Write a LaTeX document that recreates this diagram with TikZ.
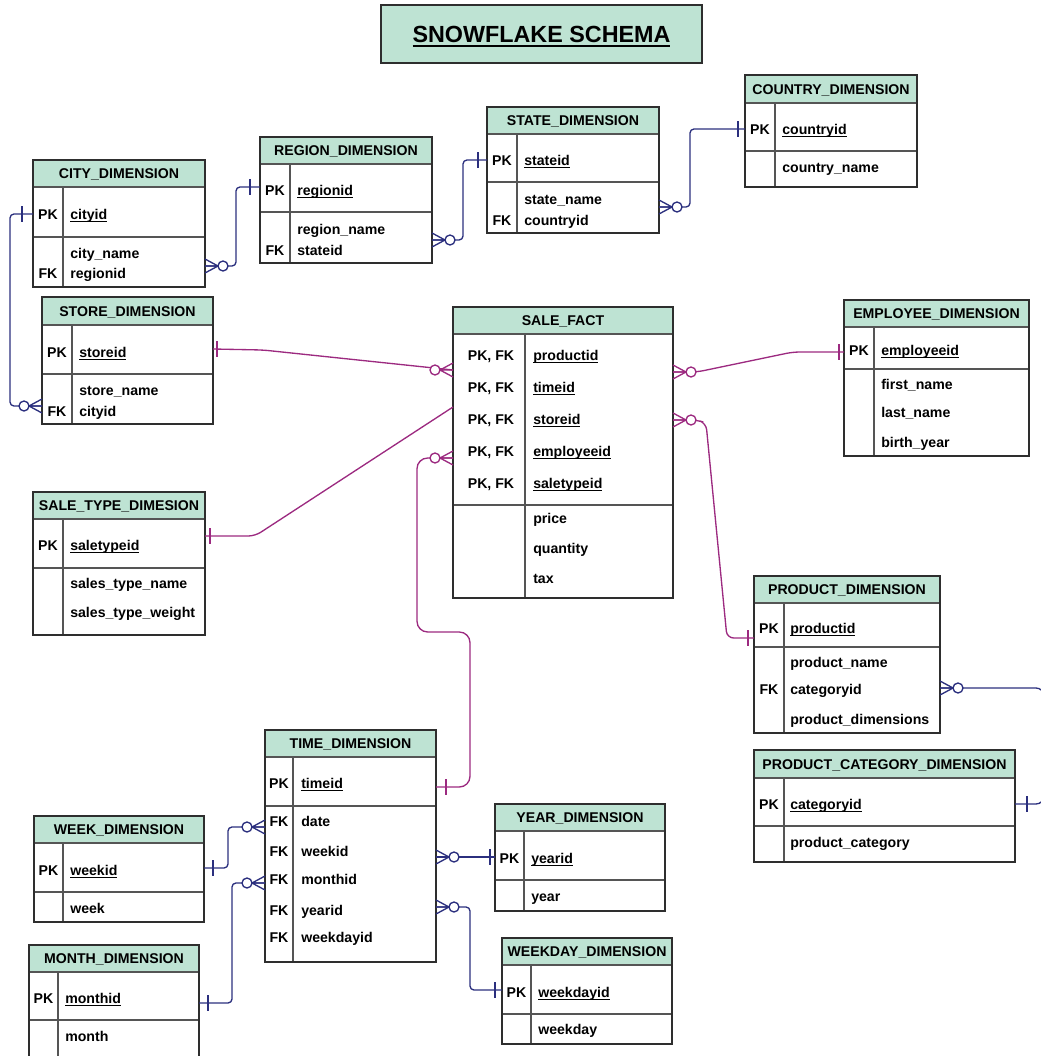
\documentclass[tikz,border=0pt]{standalone}
\usepackage{fontspec}
\setmainfont{Liberation Sans}
\definecolor{hdrfill}{HTML}{BEE3D3}
\definecolor{tblline}{HTML}{2E2E2E}
\definecolor{tblinner}{HTML}{555555}
\definecolor{navy}{HTML}{2B2F7E}
\definecolor{plum}{HTML}{9C2A80}

% key underline: rule of given thickness, given depth below the baseline
\newcommand\keyline[3]{\setbox0\hbox{#3}\leavevmode\rlap{\raisebox{-#2}{\rule{\wd0}{#1}}}\box0}
\newcommand\ukey[1]{\keyline{0.75pt}{2.1pt}{#1}}

% table: name, title, x1, x2, y-top, y-header, y-key, y-bottom, x-divider
\newcommand\ertable[9]{%
  \fill[hdrfill] (#3,#5) rectangle (#4,#6);
  \draw[innerrule] (#3,#6) -- (#4,#6) (#3,#7) -- (#4,#7) (#9,#6) -- (#9,#8);
  \draw[outerrule] (#3,#5) rectangle (#4,#8);
  \node[hdrtext] (#1) at ({(#3+#4)/2},{(#5+#6)/2}) {#2};
}

\tikzset{
  crow/.pic={
    \draw[pic actions] (0,-7) -- (13,0) -- (0,7) (0,0) -- (13,0);
    \draw[pic actions,fill=white] (18,0) circle[radius=5];
  },
  onebar/.pic={\draw[pic actions] (0,-8) -- (0,8);}
}

\begin{document}
\begin{tikzpicture}[x=0.75pt,y=-0.75pt,
  outerrule/.style={draw=tblline,line width=1.1pt},
  innerrule/.style={draw=tblinner,line width=1.1pt},
  cell/.style={font=\bfseries\fontsize{10.6}{12}\selectfont,text=black,inner sep=0pt,
    text height=7.5pt,text depth=0pt,anchor=west},
  keycell/.style={cell,anchor=center},
  hdrtext/.style={cell,anchor=center},
  navyrel/.style={draw=navy,line width=1pt,rounded corners=3pt},
  plumrel/.style={draw=plum,line width=1pt,rounded corners=5pt},
  navyend/.style={draw=navy,line width=1pt},
  plumend/.style={draw=plum,line width=1pt}]
\useasboundingbox (0,0) rectangle (1041,1056);

% title
\draw[draw=tblline,line width=1.4pt,fill=hdrfill] (381,5) rectangle (702,63);
\node[font=\bfseries\fontsize{17.5}{20}\selectfont,inner sep=0pt,text height=12.6pt,text depth=0pt]
  (title) at (541.5,34) {\keyline{1.5pt}{3.6pt}{SNOWFLAKE SCHEMA}};

% ---------------- tables ----------------
\ertable{city}{CITY\_DIMENSION}{33}{205}{160}{187}{237}{287}{63}
\node[keycell] (city-k1) at (48,214) {PK};
\node[cell] (city-f1) at (70,214) {\ukey{cityid}};
\node[cell] (city-f2) at (70,253) {city\_name};
\node[keycell] (city-k3) at (48,273) {FK};
\node[cell] (city-f3) at (70,273) {regionid};

\ertable{region}{REGION\_DIMENSION}{260}{432}{137}{164}{212}{263}{290}
\node[keycell] (region-k1) at (275,190) {PK};
\node[cell] (region-f1) at (297,190) {\ukey{regionid}};
\node[cell] (region-f2) at (297,229) {region\_name};
\node[keycell] (region-k3) at (275,250) {FK};
\node[cell] (region-f3) at (297,250) {stateid};

\ertable{state}{STATE\_DIMENSION}{487}{659}{107}{134}{182}{233}{517}
\node[keycell] (state-k1) at (502,160) {PK};
\node[cell] (state-f1) at (524,160) {\ukey{stateid}};
\node[cell] (state-f2) at (524,199) {state\_name};
\node[keycell] (state-k3) at (502,220) {FK};
\node[cell] (state-f3) at (524,220) {countryid};

\ertable{country}{COUNTRY\_DIMENSION}{745}{917}{75}{103}{151}{187}{775}
\node[keycell] (country-k1) at (760,129) {PK};
\node[cell] (country-f1) at (782,129) {\ukey{countryid}};
\node[cell] (country-f2) at (782,167) {country\_name};

\ertable{store}{STORE\_DIMENSION}{42}{213}{297}{325}{374}{424}{72}
\node[keycell] (store-k1) at (57,352) {PK};
\node[cell] (store-f1) at (79,352) {\ukey{storeid}};
\node[cell] (store-f2) at (79,390) {store\_name};
\node[keycell] (store-k3) at (57,411) {FK};
\node[cell] (store-f3) at (79,411) {cityid};

\ertable{sale}{SALE\_FACT}{453}{673}{307}{334}{505}{598}{525}
\node[keycell] (sale-k1) at (491,355) {PK, FK};
\node[cell] (sale-f1) at (533,355) {\ukey{productid}};
\node[keycell] (sale-k2) at (491,387) {PK, FK};
\node[cell] (sale-f2) at (533,387) {\ukey{timeid}};
\node[keycell] (sale-k3) at (491,419) {PK, FK};
\node[cell] (sale-f3) at (533,419) {\ukey{storeid}};
\node[keycell] (sale-k4) at (491,451) {PK, FK};
\node[cell] (sale-f4) at (533,451) {\ukey{employeeid}};
\node[keycell] (sale-k5) at (491,483) {PK, FK};
\node[cell] (sale-f5) at (533,483) {\ukey{saletypeid}};
\node[cell] (sale-f6) at (533,518) {price};
\node[cell] (sale-f7) at (533,548) {quantity};
\node[cell] (sale-f8) at (533,578) {tax};

\ertable{employee}{EMPLOYEE\_DIMENSION}{844}{1029}{300}{327}{369}{456}{874}
\node[keycell] (employee-k1) at (859,350) {PK};
\node[cell] (employee-f1) at (881,350) {\ukey{employeeid}};
\node[cell] (employee-f2) at (881,384) {first\_name};
\node[cell] (employee-f3) at (881,412) {last\_name};
\node[cell] (employee-f4) at (881,442) {birth\_year};

\ertable{saletype}{SALE\_TYPE\_DIMESION}{33}{205}{492}{519}{568}{635}{63}
\node[keycell] (saletype-k1) at (48,545) {PK};
\node[cell] (saletype-f1) at (70,545) {\ukey{saletypeid}};
\node[cell] (saletype-f2) at (70,583) {sales\_type\_name};
\node[cell] (saletype-f3) at (70,612) {sales\_type\_weight};

\ertable{product}{PRODUCT\_DIMENSION}{754}{940}{576}{603}{647}{733}{784}
\node[keycell] (product-k1) at (769,628) {PK};
\node[cell] (product-f1) at (790,628) {\ukey{productid}};
\node[cell] (product-f2) at (790,662) {product\_name};
\node[keycell] (product-k3) at (769,689) {FK};
\node[cell] (product-f3) at (790,689) {categoryid};
\node[cell] (product-f4) at (790,719) {product\_dimensions};

\ertable{category}{PRODUCT\_CATEGORY\_DIMENSION}{754}{1015}{750}{778}{826}{862}{784}
\node[keycell] (category-k1) at (769,804) {PK};
\node[cell] (category-f1) at (790,804) {\ukey{categoryid}};
\node[cell] (category-f2) at (790,842) {product\_category};

\ertable{time}{TIME\_DIMENSION}{265}{436}{730}{757}{806}{962}{293}
\node[keycell] (time-k1) at (279,783) {PK};
\node[cell] (time-f1) at (301,783) {\ukey{timeid}};
\node[keycell] (time-k2) at (279,821) {FK};
\node[cell] (time-f2) at (301,821) {date};
\node[keycell] (time-k3) at (279,851) {FK};
\node[cell] (time-f3) at (301,851) {weekid};
\node[keycell] (time-k4) at (279,879) {FK};
\node[cell] (time-f4) at (301,879) {monthid};
\node[keycell] (time-k5) at (279,910) {FK};
\node[cell] (time-f5) at (301,910) {yearid};
\node[keycell] (time-k6) at (279,937) {FK};
\node[cell] (time-f6) at (301,937) {weekdayid};

\ertable{week}{WEEK\_DIMENSION}{34}{204}{816}{843}{892}{922}{63}
\node[keycell] (week-k1) at (48.5,870) {PK};
\node[cell] (week-f1) at (70,870) {\ukey{weekid}};
\node[cell] (week-f2) at (70,908) {week};

\ertable{month}{MONTH\_DIMENSION}{29}{199}{945}{972}{1020}{1070}{58}
\node[keycell] (month-k1) at (43.5,998) {PK};
\node[cell] (month-f1) at (65,998) {\ukey{monthid}};
\node[cell] (month-f2) at (65,1036) {month};

\ertable{year}{YEAR\_DIMENSION}{495}{665}{804}{831}{880}{911}{524}
\node[keycell] (year-k1) at (509.5,858) {PK};
\node[cell] (year-f1) at (531,858) {\ukey{yearid}};
\node[cell] (year-f2) at (531,896) {year};

\ertable{weekday}{WEEKDAY\_DIMENSION}{502}{672}{938}{965}{1014}{1044}{531}
\node[keycell] (weekday-k1) at (516.5,992) {PK};
\node[cell] (weekday-f1) at (538,992) {\ukey{weekdayid}};
\node[cell] (weekday-f2) at (538,1029) {weekday};

% ---------------- connector end points ----------------
\coordinate (city-many) at (205,266);   \coordinate (region-one) at (260,187);
\coordinate (region-many) at (432,240); \coordinate (state-one) at (487,160);
\coordinate (state-many) at (659,207);  \coordinate (country-one) at (745,129);
\coordinate (city-one) at (33,214);     \coordinate (store-many) at (42,406);
\coordinate (product-many) at (940,688);\coordinate (category-one) at (1015,804);
\coordinate (week-one) at (204,868);    \coordinate (time-many-w) at (265,827);
\coordinate (month-one) at (199,1003);  \coordinate (time-many-m) at (265,883);
\coordinate (time-many-y) at (436,857); \coordinate (year-one) at (495,857);
\coordinate (time-many-d) at (436,907); \coordinate (weekday-one) at (502,990);
\coordinate (store-one) at (213,349);   \coordinate (sale-many-s) at (453,370);
\coordinate (saletype-one) at (205,536);\coordinate (sale-in-t) at (453,407);
\coordinate (time-one) at (436,787);    \coordinate (sale-many-t) at (453,458);
\coordinate (sale-many-e) at (673,372); \coordinate (employee-one) at (844,352);
\coordinate (sale-many-p) at (673,420); \coordinate (product-one) at (754,638);

% ---------------- snowflake (navy) relations ----------------
\draw[navyrel] (city-many) -| (236,187) -- (region-one);
\draw[navyrel] (region-many) -| (463,160) -- (state-one);
\draw[navyrel] (state-many) -| (690,129) -- (country-one);
\draw[navyrel] (city-one) -| (10,406) -- (store-many);
\draw[navyrel,rounded corners=6pt] (product-many) -| (1044,804) -- (category-one);
\draw[navyrel] (week-one) -| (228,827) -- (time-many-w);
\draw[navyrel] (month-one) -| (232,883) -- (time-many-m);
\draw[navyrel] (time-many-y) -- (year-one);
\draw[navyrel] (time-many-d) -| (470,990) -- (weekday-one);

\pic[navyend] at (city-many) {crow};
\pic[navyend] at (250,187) {onebar};
\pic[navyend] at (region-many) {crow};
\pic[navyend] at (478,160) {onebar};
\pic[navyend] at (state-many) {crow};
\pic[navyend] at (738,129) {onebar};
\pic[navyend] at (22,214) {onebar};
\pic[navyend,rotate=180] at (store-many) {crow};
\pic[navyend] at (product-many) {crow};
\pic[navyend] at (1027,804) {onebar};
\pic[navyend] at (213,868) {onebar};
\pic[navyend,rotate=180] at (time-many-w) {crow};
\pic[navyend] at (208,1003) {onebar};
\pic[navyend,rotate=180] at (time-many-m) {crow};
\pic[navyend] at (time-many-y) {crow};
\pic[navyend] at (490,857) {onebar};
\pic[navyend] at (time-many-d) {crow};
\pic[navyend] at (495,990) {onebar};

% ---------------- fact (plum) relations ----------------
\draw[plumrel] (store-one) -- (263,350) -- (sale-many-s);
\draw[plumrel] (saletype-one) -- (255,536) -- (sale-in-t);
\draw[plumrel,rounded corners=8pt] (time-one) -| (470,632) -| (417,458) -- (sale-many-t);
\draw[plumrel] (sale-many-e) -- (697,372) -- (793,352) -- (employee-one);
\draw[plumrel] (sale-many-p) -- (697,420) -- (706,423) -- (727,638) -- (product-one);

\pic[plumend] at (217,349) {onebar};
\pic[plumend,rotate=180] at (sale-many-s) {crow};
\pic[plumend] at (210,536) {onebar};
\pic[plumend] at (446,787) {onebar};
\pic[plumend,rotate=180] at (sale-many-t) {crow};
\pic[plumend] at (sale-many-e) {crow};
\pic[plumend] at (839,352) {onebar};
\pic[plumend] at (sale-many-p) {crow};
\pic[plumend] at (748,638) {onebar};
\end{tikzpicture}
\end{document}
